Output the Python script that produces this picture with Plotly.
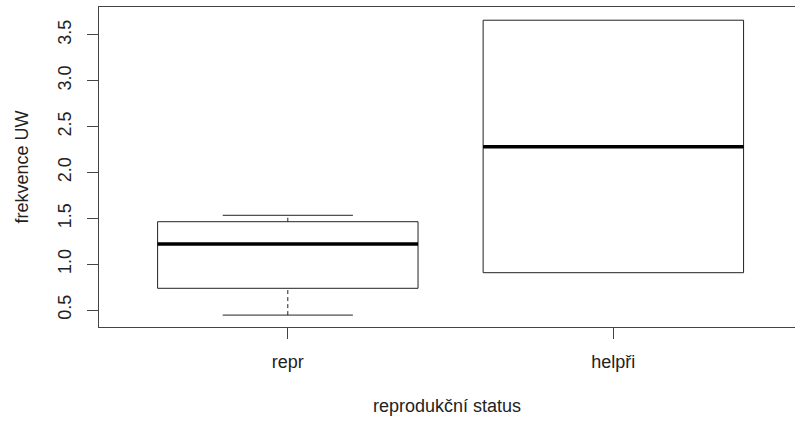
import plotly.graph_objects as go

categories = ["repr", "helpři"]
positions = [1, 2]
lower_whisker = [0.445, 0.907]
q1 = [0.737, 0.907]
median = [1.22, 2.28]
q3 = [1.463, 3.66]
upper_whisker = [1.533, 3.66]

y_title = "frekvence UW"
x_title = "reprodukční status"
y_ticks = [0.5, 1.0, 1.5, 2.0, 2.5, 3.0, 3.5]

FONT = "Liberation Sans"
FS = 18
BW = 0.8
fig = go.Figure()

for i, x in enumerate(positions):
    fig.add_trace(go.Box(
        x=[x], q1=[q1[i]], median=[median[i]], q3=[q3[i]],
        lowerfence=[q1[i]], upperfence=[q3[i]], width=BW,
        fillcolor="rgba(255,255,255,0)", line=dict(color="#222", width=1),
        whiskerwidth=0, boxpoints=False, showlegend=False, hoverinfo="skip"))
    fig.add_trace(go.Scatter(x=[x - BW / 2, x + BW / 2], y=[median[i], median[i]],
                             mode="lines", line=dict(color="black", width=3.5),
                             showlegend=False, hoverinfo="skip"))
    if lower_whisker[i] < q1[i]:
        fig.add_trace(go.Scatter(x=[x, x], y=[lower_whisker[i], q1[i]], mode="lines",
                                 line=dict(color="#222", width=1, dash="4px,3px"),
                                 showlegend=False, hoverinfo="skip"))
        fig.add_trace(go.Scatter(x=[x - BW / 4, x + BW / 4], y=[lower_whisker[i]] * 2,
                                 mode="lines", line=dict(color="#222", width=1),
                                 showlegend=False, hoverinfo="skip"))
    if upper_whisker[i] > q3[i]:
        fig.add_trace(go.Scatter(x=[x, x], y=[q3[i], upper_whisker[i]], mode="lines",
                                 line=dict(color="#222", width=1, dash="4px,3px"),
                                 showlegend=False, hoverinfo="skip"))
        fig.add_trace(go.Scatter(x=[x - BW / 4, x + BW / 4], y=[upper_whisker[i]] * 2,
                                 mode="lines", line=dict(color="#222", width=1),
                                 showlegend=False, hoverinfo="skip"))

TXT = "#222"
fig.update_layout(
    width=795, height=421,
    margin=dict(l=99, r=0, t=7, b=94, pad=0),
    paper_bgcolor="white", plot_bgcolor="white",
    font=dict(family=FONT, size=FS, color=TXT),
    showlegend=False,
    xaxis=dict(range=[0.42, 2.558], tickvals=positions, ticktext=categories,
               tickfont=dict(family=FONT, size=FS, color=TXT),
               showgrid=False, zeroline=False, showline=True, mirror=True,
               linecolor="#444", linewidth=1.3, ticks="outside", ticklen=11,
               tickcolor="#444", tickwidth=1.3, ticklabelstandoff=7,
               title=dict(text=x_title, standoff=28,
                          font=dict(family=FONT, size=FS, color=TXT))),
    yaxis=dict(range=[0.315, 3.804], tickvals=y_ticks,
               ticktext=[f"{v:.1f}" for v in y_ticks], tickangle=-90,
               tickfont=dict(family=FONT, size=FS, color=TXT),
               showgrid=False, zeroline=False, showline=True, mirror=False,
               linecolor="#444", linewidth=1.3, ticks="outside", ticklen=11,
               tickcolor="#444", tickwidth=1.3, ticklabelstandoff=9,
               title=dict(text=y_title, standoff=21,
                          font=dict(family=FONT, size=FS, color=TXT))),
)

fig.write_html("out.html")
